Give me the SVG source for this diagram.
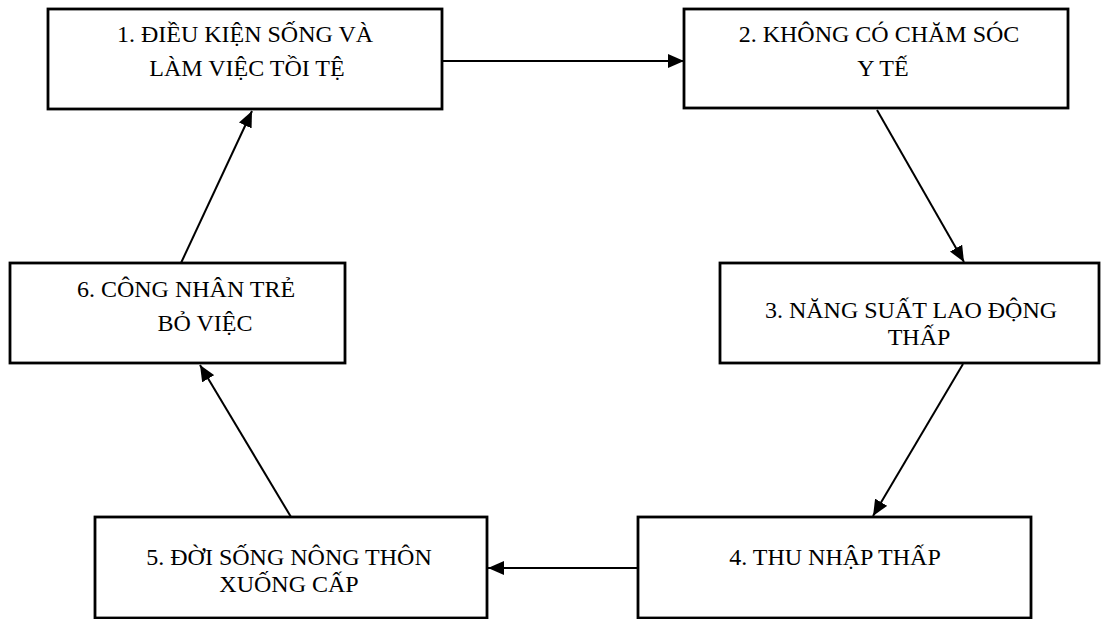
<svg xmlns="http://www.w3.org/2000/svg" width="1108" height="619" viewBox="0 0 1108 619">
  <style>
    .box { fill: #ffffff; stroke: #000000; stroke-width: 2.8; }
    .lbl { font-family: "Liberation Serif", "Times New Roman", serif; font-size: 24px; fill: #000000; text-anchor: middle; }
    .conn { stroke: #000000; stroke-width: 2; fill: none; marker-end: url(#arrow); }
  </style>
  <defs>
    <marker id="arrow" viewBox="0 0 16 14" refX="16" refY="7" markerWidth="16" markerHeight="14" markerUnits="userSpaceOnUse" orient="auto">
      <path d="M0,0 L16,7 L0,14 Z" fill="#000000"/>
    </marker>
  </defs>
  <rect width="1108" height="619" fill="#ffffff"/>

  <g id="connectors">
    <line class="conn" x1="442" y1="61" x2="684" y2="61"/>
    <line class="conn" x1="877" y1="110" x2="964" y2="262"/>
    <line class="conn" x1="963" y1="364" x2="873" y2="516"/>
    <line class="conn" x1="638" y1="568" x2="488" y2="568"/>
    <line class="conn" x1="291" y1="517" x2="200" y2="365"/>
    <line class="conn" x1="181" y1="263" x2="252" y2="111"/>
  </g>

  <g id="node1">
    <rect class="box" x="48" y="9" width="394" height="100"/>
    <text class="lbl" x="245" y="42">1. ĐIỀU KIỆN SỐNG VÀ</text>
    <text class="lbl" x="247" y="76">LÀM VIỆC TỒI TỆ</text>
  </g>
  <g id="node2">
    <rect class="box" x="684" y="9" width="384" height="99"/>
    <text class="lbl" x="879" y="42">2. KHÔNG CÓ CHĂM SÓC</text>
    <text class="lbl" x="883" y="76">Y TẾ</text>
  </g>
  <g id="node3">
    <rect class="box" x="720" y="263" width="379" height="100"/>
    <text class="lbl" x="911" y="318">3. NĂNG SUẤT LAO ĐỘNG</text>
    <text class="lbl" x="919" y="345">THẤP</text>
  </g>
  <g id="node4">
    <rect class="box" x="638" y="517" width="393" height="101"/>
    <text class="lbl" x="835" y="565">4. THU NHẬP THẤP</text>
  </g>
  <g id="node5">
    <rect class="box" x="95" y="517" width="392" height="101"/>
    <text class="lbl" x="289" y="565">5. ĐỜI SỐNG NÔNG THÔN</text>
    <text class="lbl" x="289" y="592">XUỐNG CẤP</text>
  </g>
  <g id="node6">
    <rect class="box" x="10" y="263" width="335" height="100"/>
    <text class="lbl" x="186" y="297">6. CÔNG NHÂN TRẺ</text>
    <text class="lbl" x="205" y="331">BỎ VIỆC</text>
  </g>
</svg>
